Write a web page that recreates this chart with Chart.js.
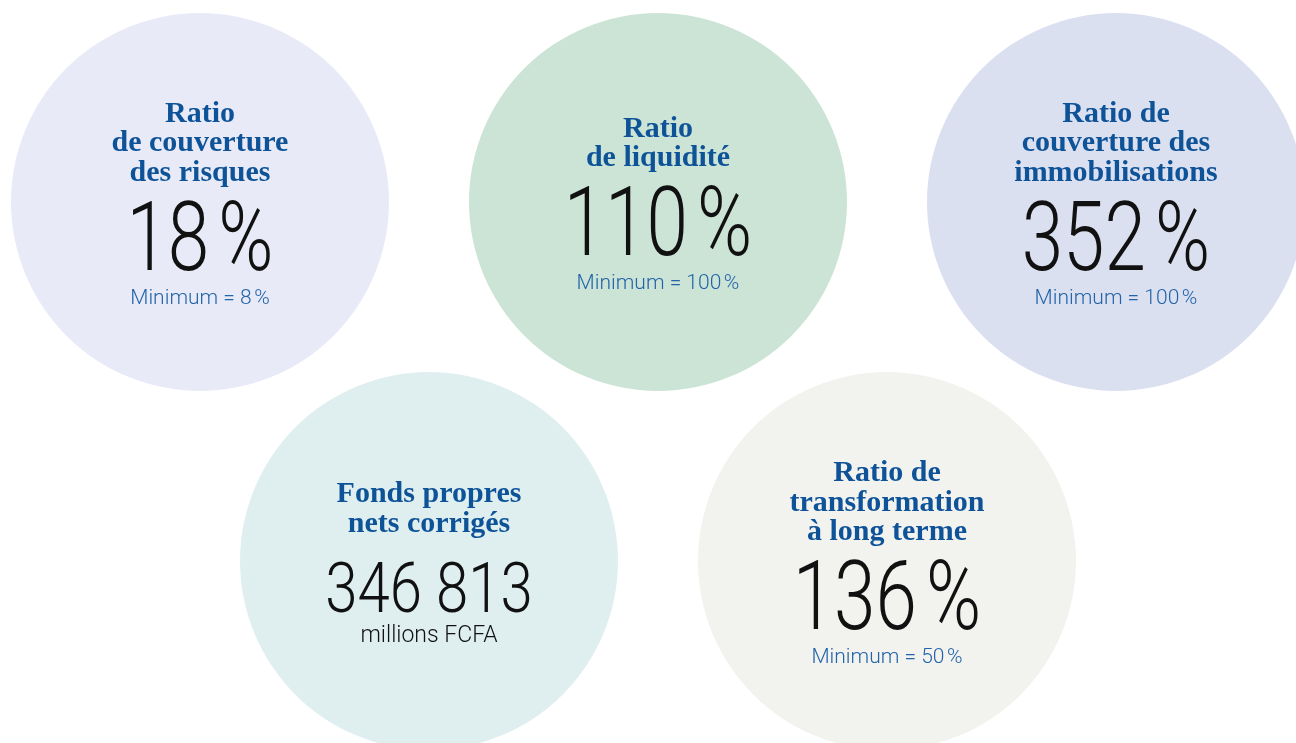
<!DOCTYPE html>
<html>
<head>
<meta charset="utf-8">
<script src="https://cdn.jsdelivr.net/npm/chart.js@4"></script>
<style>
    html, body { margin: 0; padding: 0; background: #ffffff; }
    #wrap { width: 1296px; height: 743px; position: relative; overflow: hidden; }
</style>
</head>
<body>
<div id="wrap"><canvas id="ratiosChart" width="1296" height="743"></canvas></div>
<script>
// Données des indicateurs
const titles = [
    ['Ratio', 'de couverture', 'des risques'],
    ['Ratio', 'de liquidité'],
    ['Ratio de', 'couverture des', 'immobilisations'],
    ['Fonds propres', 'nets corrigés'],
    ['Ratio de', 'transformation', 'à long terme']
];
const values = [18, 110, 352, 346813, 136];
const units = ['%', '%', '%', '', '%'];
const minimums = [8, 100, 100, null, 50];
const notes = ['', '', '', 'millions FCFA', ''];

// Couleurs des cercles
const circleColors = ['#e8ebf7', '#cce4d6', '#dbe0f1', '#dfeff0', '#f2f2ef'];
const titleColor = '#0e5398';
const minColor = '#2364a8';

// Placement en grille : 3 cercles en haut, 2 décalés en bas
function gridPoint(i) {
    if (i < 3) return { x: i, y: 0 };
    return { x: i - 3 + 0.5, y: 1 };
}

function formatValue(v, unit) {
    const s = String(v).replace(/\B(?=(\d{3})+(?!\d))/g, ' ');
    return unit ? s + '\u202F' + unit : s;
}

// Textes dans les cercles
const circleTextPlugin = {
    id: 'circleText',
    afterDatasetsDraw(chart) {
        const ctx = chart.ctx;
        const meta = chart.getDatasetMeta(0);
        meta.data.forEach((el, i) => {
            const cx = el.x, cy = el.y;
            const lines = titles[i];
            const big = units[i] === '%';
            const numSize = big ? 97 : 70;
            const g1 = big ? 89 : 80;
            const g2 = big ? 34 : 30;
            const total = (lines.length - 1) * 29.5 + g1 + g2;
            let y = cy - total / 2 + 11;

            ctx.save();
            ctx.textAlign = 'center';
            ctx.textBaseline = 'alphabetic';

            // Titre
            ctx.fillStyle = titleColor;
            ctx.font = 'bold 30px "Liberation Serif", serif';
            lines.forEach((t, k) => {
                ctx.fillText(t, cx, y + k * 29.5);
            });
            y += (lines.length - 1) * 29.5 + g1;

            // Valeur
            ctx.fillStyle = '#111111';
            ctx.font = '300 ' + numSize + 'px Roboto, sans-serif';
            ctx.save();
            ctx.translate(cx, y);
            ctx.scale(big ? 0.77 : 0.83, 1);
            ctx.fillText(formatValue(values[i], units[i]), 0, 0);
            ctx.restore();
            y += g2;

            // Minimum ou unité
            if (minimums[i] !== null) {
                ctx.fillStyle = minColor;
                ctx.font = '300 21px Roboto, sans-serif';
                ctx.fillText('Minimum = ' + minimums[i] + '\u202F%', cx, y);
            } else {
                ctx.fillStyle = '#111111';
                ctx.font = '300 23px Roboto, sans-serif';
                ctx.fillText(notes[i], cx, y);
            }
            ctx.restore();
        });
    }
};

// La zone du graphique est réduite du rayon des bulles (189 px) de chaque côté
const ctx = document.getElementById('ratiosChart').getContext('2d');
const ratiosChart = new Chart(ctx, {
    type: 'bubble',
    data: {
        datasets: [{
            data: values.map((v, i) => gridPoint(i)),
            backgroundColor: circleColors,
            borderWidth: 0,
            radius: 189,
            hoverRadius: 0,
            clip: false
        }]
    },
    options: {
        responsive: false,
        animation: false,
        events: [],
        devicePixelRatio: 1,
        layout: { padding: 0 },
        plugins: {
            legend: { display: false },
            tooltip: { enabled: false }
        },
        scales: {
            x: { type: 'linear', display: false, min: -0.024, max: 1.9804 },
            y: { type: 'linear', display: false, reverse: true, min: -0.0362, max: 0.9805 }
        }
    },
    plugins: [circleTextPlugin]
});
</script>
</body>
</html>
